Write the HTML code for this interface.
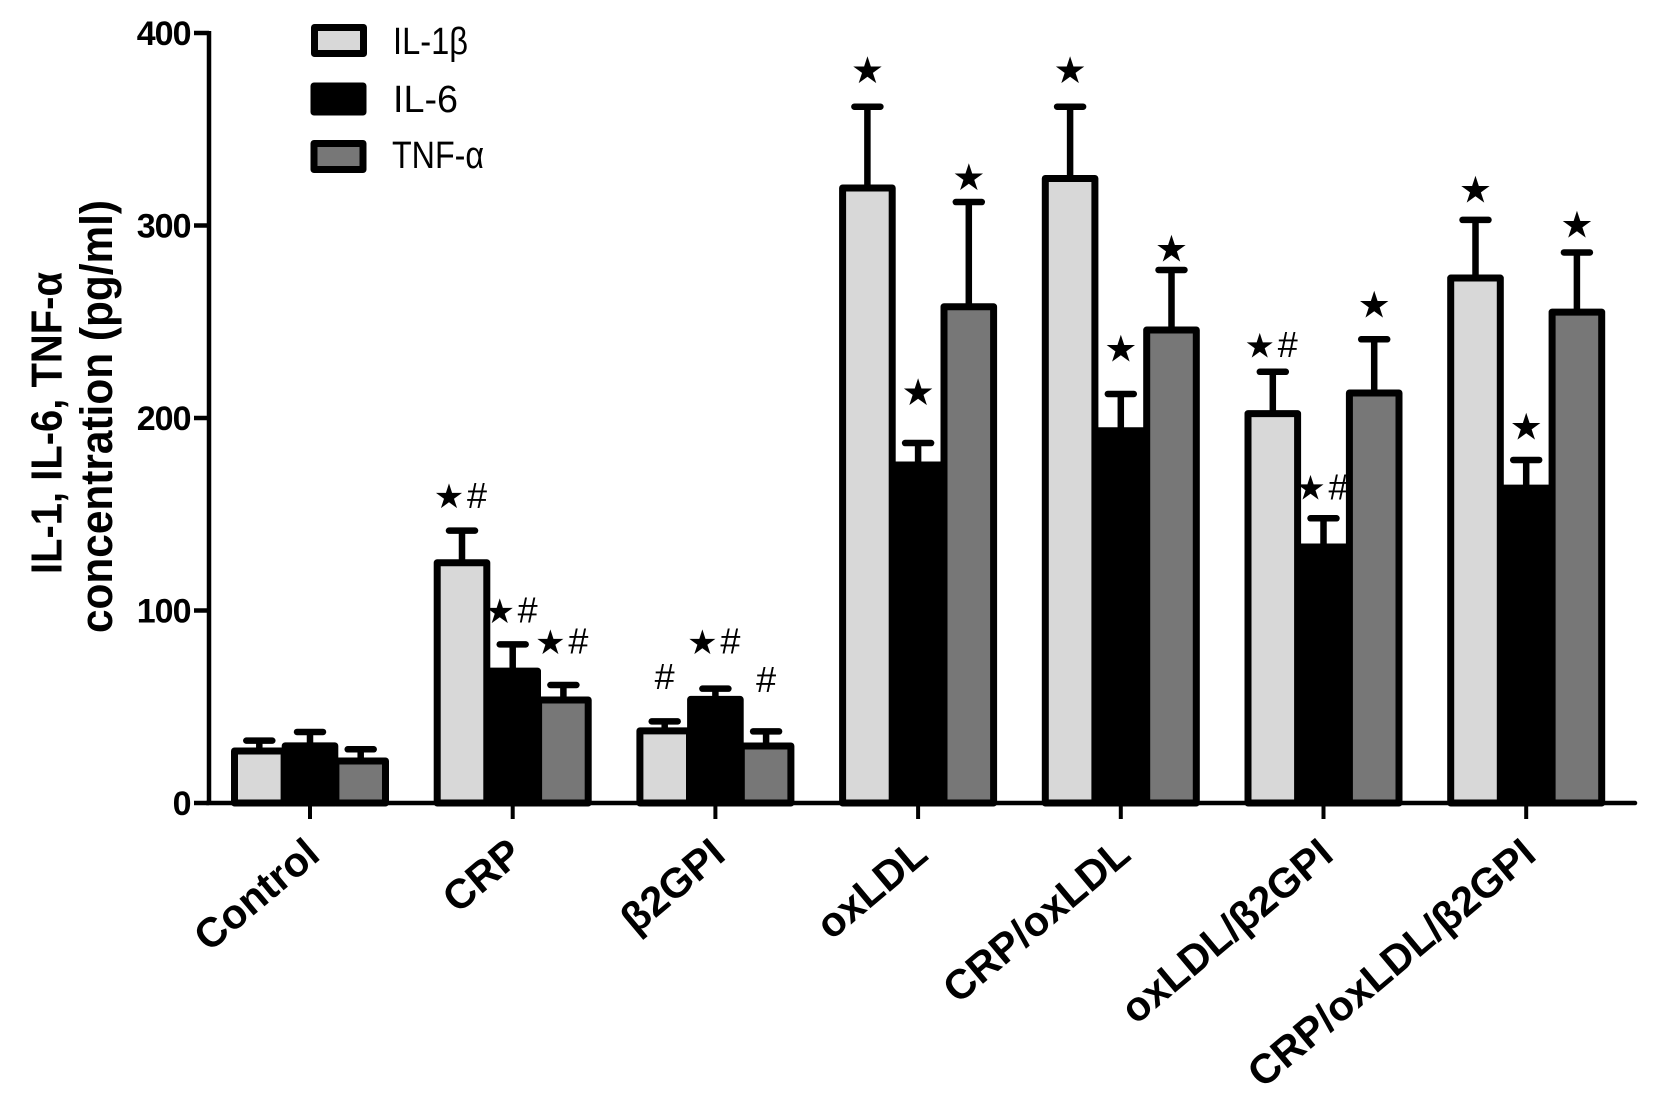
<!DOCTYPE html>
<html lang="en">
<head>
<meta charset="utf-8">
<title>Cytokine concentration chart</title>
<style>
html,body{margin:0;padding:0;background:#fff;}
svg{display:block;}
text{font-family:"Liberation Sans","DejaVu Sans",sans-serif;fill:#000;}
</style>
</head>
<body>
<svg id="chart" width="1654" height="1104" viewBox="0 0 1654 1104" xmlns="http://www.w3.org/2000/svg">
  <rect x="0" y="0" width="1654" height="1104" fill="#fff"/>
  <g id="marks"></g>
  <g id="axes"></g>
  <g id="annotations"></g>
  <g>
    <text transform="translate(61.5,574) rotate(-90)" font-size="44" font-weight="bold" textLength="302" lengthAdjust="spacingAndGlyphs">IL-1, IL-6, TNF-α</text>
    <text transform="translate(112,633) rotate(-90)" font-size="45" font-weight="bold" textLength="433" lengthAdjust="spacingAndGlyphs">concentration (pg/ml)</text>
  </g>
  <g>
    <g>
      <rect x="314.5" y="27.5" width="49" height="26" fill="#d8d8d8" stroke="#000" stroke-width="7" stroke-linejoin="round"/>
      <text x="393" y="54" font-size="38" textLength="75" lengthAdjust="spacingAndGlyphs">IL-1β</text>
    </g>
    <g>
      <rect x="314" y="86" width="49" height="26" fill="#000" stroke="#000" stroke-width="7" stroke-linejoin="round"/>
      <text x="393" y="112" font-size="38" textLength="65" lengthAdjust="spacingAndGlyphs">IL-6</text>
    </g>
    <g>
      <rect x="314" y="143.5" width="49" height="26" fill="#777" stroke="#000" stroke-width="7" stroke-linejoin="round"/>
      <text x="392" y="168" font-size="38" textLength="92" lengthAdjust="spacingAndGlyphs">TNF-α</text>
    </g>
  </g>
</svg>
<script>
const categories = ["Control", "CRP", "β2GPI", "oxLDL", "CRP/oxLDL", "oxLDL/β2GPI", "CRP/oxLDL/β2GPI"];
const yTicks = [0, 100, 200, 300, 400];
const seriesNames = ["IL-1b", "IL-6", "TNF-a"];
const il1bValues = [27, 124.8, 37.5, 319.5, 324.4, 202.3, 272.7];
const il6Values = [29.7, 68.5, 53.8, 175.6, 193.4, 133, 163.6];
const tnfaValues = [21.8, 53.5, 29.6, 257.8, 245.7, 213, 255];
const il1bErrorTops = [32.4, 141.5, 42.4, 361.7, 361.7, 224, 302.9];
const il6ErrorTops = [36.9, 82.4, 59.4, 187, 212.5, 147.9, 178.2];
const tnfaErrorTops = [27.9, 61.3, 37.2, 312.2, 276.9, 240.9, 286];
const il1bMarkers = ["", "★#", "#", "★", "★", "★#", "★"];
const il6Markers = ["", "★#", "★#", "★", "★", "★#", "★"];
const tnfaMarkers = ["", "★#", "#", "★", "★", "★", "★"];
const il1bMarkerLevels = [0, 159.5, 65.4, 381, 381, 237.9, 318.8];
const il6MarkerLevels = [0, 99.9, 83.8, 213.7, 236.4, 164, 195.8];
const tnfaMarkerLevels = [0, 83.8, 63.9, 325.4, 288.3, 259, 300.6];

const SVG_NS = "http://www.w3.org/2000/svg";
const yScale = function (v) { return 803 - v * 1.925; };
const xScale = function (i) { return 310 + i * 202.7; };
const seriesOffset = function (s) { return (s - 1) * 50.7; };
const seriesColors = ["#d8d8d8", "#000", "#777"];
const seriesValues = [il1bValues, il6Values, tnfaValues];
const seriesErrors = [il1bErrorTops, il6ErrorTops, tnfaErrorTops];
const seriesMarkers = [il1bMarkers, il6Markers, tnfaMarkers];
const seriesLevels = [il1bMarkerLevels, il6MarkerLevels, tnfaMarkerLevels];

function make(parent, tag, attrs, text) {
  const el = document.createElementNS(SVG_NS, tag);
  Object.keys(attrs).forEach(function (k) { el.setAttribute(k, attrs[k]); });
  if (text !== undefined) { el.textContent = text; }
  parent.appendChild(el);
  return el;
}

const marks = document.getElementById("marks");
const axes = document.getElementById("axes");
const annotations = document.getElementById("annotations");

categories.forEach(function (cat, i) {
  const group = make(marks, "g", {});
  
  
  seriesNames.forEach(function (name, s) {
    const cx = xScale(i) + seriesOffset(s);
    const top = yScale(seriesValues[s][i]);
    const capY = yScale(seriesErrors[s][i]);
    const stem = make(group, "line", { x1: cx, x2: cx, y1: top, y2: capY, stroke: "#000", "stroke-width": 6.5 });
    
    
    const cap = make(group, "line", { x1: cx - 13, x2: cx + 13, y1: capY, y2: capY, stroke: "#000", "stroke-width": 6.5, "stroke-linecap": "round" });
    
    
  });
  seriesNames.forEach(function (name, s) {
    const cx = xScale(i) + seriesOffset(s);
    const top = yScale(seriesValues[s][i]);
    const bar = make(group, "rect", { x: cx - 24.8, y: top, width: 49.6, height: yScale(0) - top, fill: seriesColors[s], stroke: "#000", "stroke-width": 7, "stroke-linejoin": "round" });
    
    
  });
  seriesNames.forEach(function (name, s) {
    const label = seriesMarkers[s][i];
    if (!label) { return; }
    const cx = xScale(i) + seriesOffset(s);
    const cy = yScale(seriesLevels[s][i]);
    const pair = label.length > 1;
    const hasStar = label.indexOf("★") >= 0;
    const hasHash = label.indexOf("#") >= 0;
    const holder = make(annotations, "g", {});
    
    
    if (hasStar) {
      const fs = pair ? 34 : 37;
      const star = make(holder, "text", { x: pair ? cx - 13 : cx, y: cy + fs * 0.36, "text-anchor": "middle", "font-size": fs, style: "font-family:'DejaVu Sans',sans-serif" }, "★");
      
      
    }
    if (hasHash) {
      const hash = make(holder, "text", { x: pair ? cx + 15 : cx, y: cy + 12, "text-anchor": "middle", "font-size": 36 }, "#");
      
      
    }
  });

  const tick = make(axes, "line", { x1: xScale(i), x2: xScale(i), y1: 803, y2: 819, stroke: "#000", "stroke-width": 4 });
  
  
  const lx = xScale(i) + 12;
  const ly = 858;
  const xl = make(axes, "text", { transform: "translate(" + lx + "," + ly + ") rotate(-40)", "text-anchor": "end", "font-size": 41.5, "font-weight": "bold" }, cat);
  
  
});

const yAxisLine = make(axes, "line", { x1: 209, x2: 209, y1: 31, y2: 805, stroke: "#000", "stroke-width": 4.5 });


const xAxisLine = make(axes, "line", { x1: 207, x2: 1635, y1: 803, y2: 803, stroke: "#000", "stroke-width": 4.5, "stroke-linecap": "round" });



yTicks.forEach(function (t) {
  const y = yScale(t);
  const tk = make(axes, "line", { x1: 194, x2: 209, y1: y, y2: y, stroke: "#000", "stroke-width": 4.5 });
  
  
  const lb = make(axes, "text", { x: 190.5, y: y + 12, "text-anchor": "end", "font-size": 34, "font-weight": "bold", "letter-spacing": "-1" }, String(t));
  
  
});
</script>
</body>
</html>
